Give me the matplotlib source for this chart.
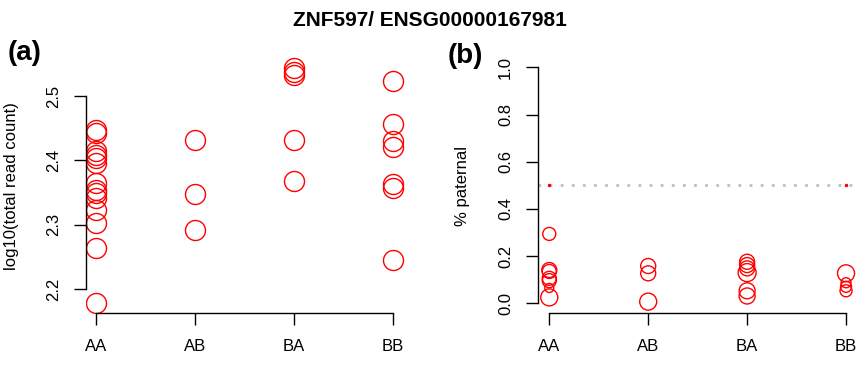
import matplotlib
matplotlib.use('Agg')
import matplotlib.pyplot as plt

plt.rcParams['font.family'] = ['Liberation Sans', 'DejaVu Sans']

genotypes = ['AA', 'AB', 'BA', 'BB']

# (a) log10(total read count)
count_AA = [2.447, 2.443, 2.414, 2.409, 2.404, 2.396, 2.365, 2.354, 2.349, 2.341, 2.323, 2.302, 2.264, 2.178]
count_AB = [2.432, 2.347, 2.292]
count_BA = [2.544, 2.538, 2.533, 2.432, 2.368]
count_BB = [2.523, 2.457, 2.430, 2.421, 2.364, 2.357, 2.245]

# (b) % paternal, with circle sizes (px diameter)
pat_AA = [0.294, 0.141, 0.135, 0.106, 0.096, 0.065, 0.025]
size_AA = [13, 15, 14, 14, 14, 9, 17]
pat_AB = [0.158, 0.127, 0.007]
size_AB = [15, 15, 17]
pat_BA = [0.176, 0.162, 0.148, 0.130, 0.053, 0.031]
size_BA = [15, 15, 15, 18, 16, 16]
pat_BB = [0.127, 0.087, 0.070, 0.053]
size_BB = [17, 10, 11, 12]

half_x = [1, 4]
half_y = [0.5, 0.5]

title = 'ZNF597/ ENSG00000167981'

W, H = 861, 367
fig = plt.figure(figsize=(W / 100, H / 100), dpi=100)


def px_axes(left, top, right, bottom):
    return fig.add_axes([left / W, 1 - bottom / H, (right - left) / W, (bottom - top) / H])


def style(ax, ybounds, yticks, ylabels):
    for s in ['top', 'right']:
        ax.spines[s].set_visible(False)
    ax.spines['left'].set_bounds(*ybounds)
    ax.spines['bottom'].set_bounds(1, 4)
    for s in ['left', 'bottom']:
        ax.spines[s].set_linewidth(1.0)
    ax.set_xticks([1, 2, 3, 4])
    ax.set_xticklabels(genotypes)
    ax.set_yticks(yticks)
    ax.set_yticklabels(ylabels, rotation=90, va='center', ha='center')
    ax.tick_params(axis='both', length=8.3, width=1.0, labelsize=12)
    ax.tick_params(axis='y', pad=15.3)
    ax.tick_params(axis='x', pad=15.6)
    for lab in ax.get_xticklabels():
        lab.set_va('center')


# 패널 (a)
ax1 = px_axes(86, 57, 405, 313.3)
for i, vals in enumerate([count_AA, count_AB, count_BA, count_BB]):
    ax1.plot([i + 1] * len(vals), vals, 'o', mfc='none', mec='#FF0000', ms=14.4, mew=1.0)
ax1.set_xlim(0.896, 4.12)
ax1.set_ylim(2.162, 2.561)
style(ax1, (2.2, 2.5), [2.2, 2.3, 2.4, 2.5], ['2.2', '2.3', '2.4', '2.5'])

# 패널 (b)
ax2 = px_axes(538.3, 57.9, 857.9, 313.3)
ax2.axhline(0.5, color='#BEBEBE', lw=2.0, linestyle=(0, (1, 3)))
for i, (vals, sizes) in enumerate([(pat_AA, size_AA), (pat_AB, size_AB), (pat_BA, size_BA), (pat_BB, size_BB)]):
    ax2.scatter([i + 1] * len(vals), vals, s=[(d / 1.389) ** 2 for d in sizes],
                facecolors='none', edgecolors='#FF0000', linewidths=1.0)
ax2.plot(half_x, half_y, 'o', color='#FF0000', ms=1.5)
ax2.set_xlim(0.889, 4.12)
ax2.set_ylim(-0.0424, 1.04)
style(ax2, (0, 1), [0, 0.2, 0.4, 0.6, 0.8, 1.0], ['0.0', '0.2', '0.4', '0.6', '0.8', '1.0'])

# 라벨과 제목
fig.text(12 / W, 1 - 186 / H, 'log10(total read count)', rotation=90, ha='center', va='center', fontsize=12)
fig.text(463 / W, 1 - 186 / H, '% paternal', rotation=90, ha='center', va='center', fontsize=12)
fig.text(430 / W, 1 - 20 / H, title, ha='center', va='center', fontsize=15, fontweight='bold')
fig.text(25 / W, 1 - 53 / H, '(a)', ha='center', va='center', fontsize=20, fontweight='bold')
fig.text(465 / W, 1 - 56 / H, '(b)', ha='center', va='center', fontsize=20, fontweight='bold')

plt.savefig('out.png', dpi=100)
